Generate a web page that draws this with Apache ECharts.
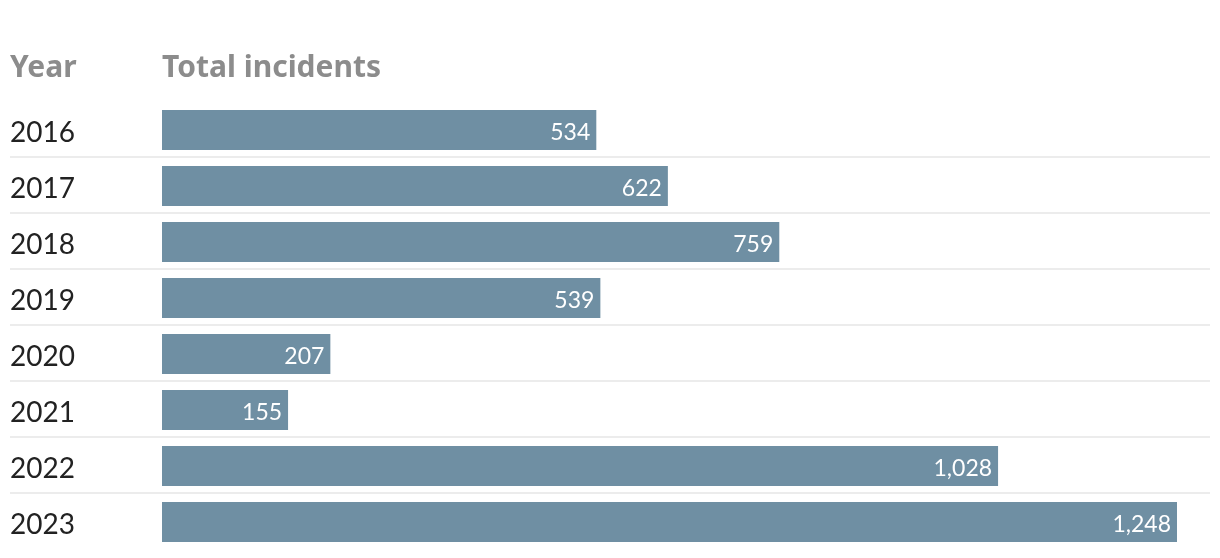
<!DOCTYPE html>
<html>
<head>
<meta charset="utf-8">
<script src="https://cdn.jsdelivr.net/npm/echarts@6/dist/echarts.min.js"></script>
<style>
html,body{margin:0;padding:0;background:#fff;}
#chart{width:1220px;height:558px;}
</style>
</head>
<body>
<div id="chart"></div>
<script>
var years = ['2016','2017','2018','2019','2020','2021','2022','2023'];
var incidents = [534, 622, 759, 539, 207, 155, 1028, 1248];
var headerYear = 'Year';
var headerValue = 'Total incidents';

var FONT = 'Lato, "Noto Sans", sans-serif';
var HFONT = '"Noto Sans", sans-serif';
var chart = echarts.init(document.getElementById('chart'), null, {renderer:'canvas'});
chart.setOption({
  backgroundColor: '#ffffff',
  animation: false,
  title: [
    {text: headerYear, left: 10, top: 53, padding: 0,
     textStyle: {fontFamily: HFONT, fontWeight: 'bold', fontSize: 30, color: '#8c8c8c'}},
    {text: headerValue, left: 162, top: 53, padding: 0,
     textStyle: {fontFamily: HFONT, fontWeight: 'bold', fontSize: 30, color: '#8c8c8c'}}
  ],
  grid: [
    {left: 162, right: 43, top: 102, height: 448, containLabel: false},
    {left: 10, right: 10, top: 101, height: 448, containLabel: false}
  ],
  xAxis: [
    {type: 'value', gridIndex: 0, min: 0, max: 1248, show: false},
    {type: 'value', gridIndex: 1, min: 0, max: 1, show: false}
  ],
  yAxis: [
    {type: 'category', gridIndex: 0, data: years, inverse: true,
     axisLine: {show: false}, axisTick: {show: false}, splitLine: {show: false},
     axisLabel: {align: 'left', margin: 152, verticalAlign: 'top', lineHeight: 5,
       fontFamily: FONT, fontSize: 28, color: '#222222'}},
    {type: 'category', gridIndex: 1, data: years, inverse: true,
     axisLine: {show: false}, axisTick: {show: false}, axisLabel: {show: false},
     splitLine: {show: true, showMinLine: false, showMaxLine: false,
       lineStyle: {color: '#ececec', width: 2}}}
  ],
  series: [{
    type: 'bar',
    xAxisIndex: 0, yAxisIndex: 0,
    data: incidents,
    barWidth: 40,
    itemStyle: {color: '#6f8fa3'},
    label: {
      show: true, position: 'insideRight', distance: 6,
      verticalAlign: 'top', lineHeight: 5,
      fontFamily: FONT, fontSize: 23, color: '#ffffff',
      formatter: function(p){ return p.value.toLocaleString('en-US'); }
    }
  }]
});
</script>
</body>
</html>
